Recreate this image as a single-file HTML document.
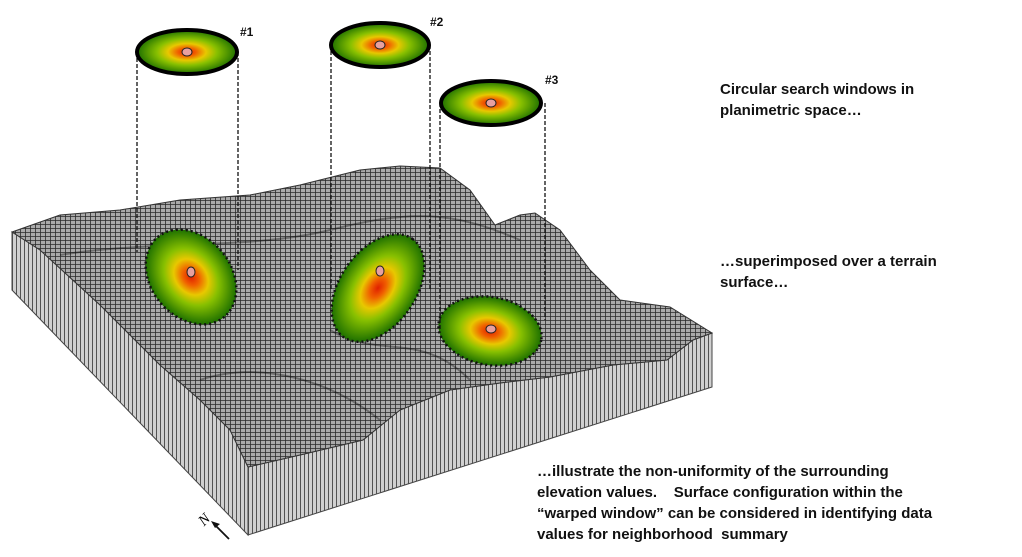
<!DOCTYPE html>
<html><head><meta charset="utf-8"><style>
body{margin:0;background:#fff;width:1022px;height:557px;overflow:hidden;position:relative;font-family:"Liberation Sans",Arial,sans-serif}
.t{position:absolute;font-weight:bold;font-size:15px;line-height:20.5px;color:#111}
</style></head><body>
<svg width="1022" height="557" style="position:absolute;left:0;top:0">
<defs>
<pattern id="vl" width="4" height="10" patternUnits="userSpaceOnUse"><rect width="4" height="10" fill="#d0d0d0"/><line x1="0.5" y1="0" x2="0.5" y2="10" stroke="#444" stroke-width="0.9"/></pattern>
<pattern id="grid" width="5" height="4" patternUnits="userSpaceOnUse"><rect width="5" height="4" fill="#aaa"/><path d="M0 0.5H5M0.5 0V4" stroke="#2a2a2a" stroke-width="0.8"/></pattern>
<radialGradient id="rg"><stop offset="0" stop-color="#e02000"/><stop offset="0.18" stop-color="#f06000"/><stop offset="0.38" stop-color="#e8c800"/><stop offset="0.6" stop-color="#88c000"/><stop offset="1" stop-color="#1e7000"/></radialGradient>
</defs>
<!-- left face -->
<polygon points="12,232 12,290 248,535 248,467 230,430 200,400 160,365 100,305 40,250" fill="url(#vl)" stroke="#444" stroke-width="1"/>
<!-- right face -->
<polygon points="248,467 300,455 363,440 400,410 450,390 500,383 550,377 613,365 667,360 693,340 712,333 712,387 248,535" fill="url(#vl)" stroke="#444" stroke-width="1"/>
<!-- top surface -->
<polygon points="12,232 60,215 120,210 180,200 250,195 300,185 360,170 400,166 440,168 470,190 495,225 520,215 535,213 560,230 590,270 620,300 670,307 712,333 693,340 667,360 613,365 550,377 500,383 450,390 400,410 363,440 300,455 248,467 230,430 200,400 160,365 100,305 40,250" fill="url(#grid)" stroke="#333" stroke-width="1"/>
<g opacity="0.35" stroke="#000" fill="none" stroke-width="2">
<path d="M60,255 C150,240 250,250 330,230 S 450,210 520,240"/>
<path d="M330,330 C380,360 420,330 470,380"/>
<path d="M200,380 C260,360 330,380 380,420"/>
</g>
<!-- blobs -->
<ellipse cx="191" cy="277" rx="52" ry="40" transform="rotate(50 191 277)" fill="url(#rg)" stroke="#111" stroke-width="2.5" stroke-dasharray="2 3"/>
<ellipse cx="378" cy="288" rx="60" ry="38" transform="rotate(-55 378 288)" fill="url(#rg)" stroke="#111" stroke-width="2.5" stroke-dasharray="2 3"/>
<ellipse cx="490" cy="331" rx="52" ry="34" transform="rotate(10 490 331)" fill="url(#rg)" stroke="#111" stroke-width="2.5" stroke-dasharray="2 3"/>
<ellipse cx="191" cy="272" rx="4" ry="5" fill="#e8a0a0" stroke="#222"/>
<ellipse cx="380" cy="271" rx="4" ry="5" fill="#e8a0a0" stroke="#222"/>
<ellipse cx="491" cy="329" rx="5" ry="4" fill="#e8a0a0" stroke="#222"/>
<!-- dashed lines -->
<g stroke="#111" stroke-width="1.3" stroke-dasharray="4 2">
<line x1="137" y1="52" x2="137" y2="252"/><line x1="238" y1="52" x2="238" y2="270"/>
<line x1="331" y1="45" x2="331" y2="290"/><line x1="430" y1="45" x2="430" y2="290"/>
<line x1="440" y1="103" x2="440" y2="330"/><line x1="545" y1="103" x2="545" y2="320"/>
</g>
<!-- top windows -->
<g stroke="#000" stroke-width="4">
<ellipse cx="187" cy="52" rx="50" ry="22" fill="url(#rg)"/>
<ellipse cx="380" cy="45" rx="49" ry="22" fill="url(#rg)"/>
<ellipse cx="491" cy="103" rx="50" ry="22" fill="url(#rg)"/>
</g>
<ellipse cx="187" cy="52" rx="5" ry="4" fill="#e8a0a0" stroke="#222"/>
<ellipse cx="380" cy="45" rx="5" ry="4" fill="#e8a0a0" stroke="#222"/>
<ellipse cx="491" cy="103" rx="5" ry="4" fill="#e8a0a0" stroke="#222"/>
<g font-family="Liberation Sans,Arial,sans-serif" font-weight="bold" font-size="12" fill="#111">
<text x="240" y="36">#1</text><text x="430" y="26">#2</text><text x="545" y="84">#3</text>
</g>
<!-- north arrow -->
<line x1="229" y1="539" x2="214" y2="524" stroke="#111" stroke-width="1.8"/>
<polygon points="211,521 220,524 215,528" fill="#111"/>
<text x="198" y="524" font-family="Liberation Serif,serif" font-style="italic" font-size="15" transform="rotate(-45 204 518)">N</text>
</svg>
<div class="t" style="left:720px;top:80px">Circular search windows in<br>planimetric space…</div>
<div class="t" style="left:720px;top:252px">…superimposed over a terrain<br>surface…</div>
<div class="t" style="left:537px;top:461px;line-height:21px">…illustrate the non-uniformity of the surrounding<br>elevation values.&nbsp;&nbsp;&nbsp; Surface configuration within the<br>“warped window” can be considered in identifying data<br>values for neighborhood&nbsp; summary</div>
</body></html>
